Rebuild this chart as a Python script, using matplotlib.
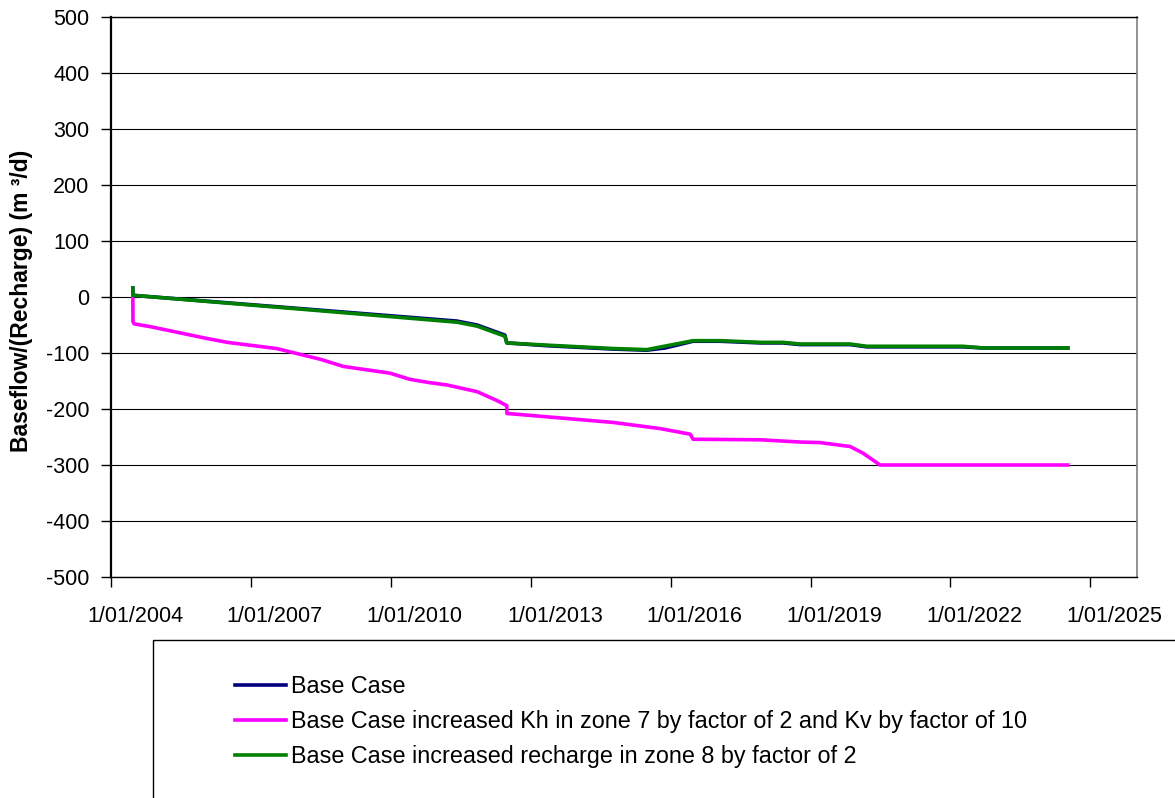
import matplotlib
matplotlib.use('Agg')
import matplotlib.pyplot as plt
import matplotlib.transforms as mtransforms
from matplotlib.patches import Rectangle
import numpy as np
import pandas as pd

plt.rcParams['font.family'] = ['Liberation Sans', 'DejaVu Sans']
plt.rcParams['axes.unicode_minus'] = False

# simulated baseflow (m3/d), negative = recharge
base_dates = ['2004-06-20', '2004-06-21', '2008-04-05', '2011-06-03', '2011-11-07',
              '2012-06-12', '2012-06-27', '2013-05-08', '2014-10-08', '2015-06-28',
              '2015-11-20', '2016-06-25', '2017-01-22', '2017-12-03', '2018-05-30',
              '2018-10-12', '2019-11-07', '2020-03-17', '2022-04-08', '2022-09-13',
              '2024-07-08']
base_vals = [16, 3, -22, -43, -50, -68, -82, -87, -93, -95, -91, -79, -79, -82, -82,
             -85, -85, -89, -89, -91, -91]

kh_dates = ['2004-06-20', '2004-06-21', '2004-07-01', '2004-11-05', '2006-01-20',
            '2006-06-30', '2007-07-20', '2008-06-25', '2008-12-25', '2009-12-25',
            '2010-05-30', '2010-11-03', '2011-03-15', '2011-11-07', '2012-04-12',
            '2012-06-27', '2012-06-28', '2012-10-15', '2014-10-08', '2015-10-12',
            '2016-06-03', '2016-06-25', '2017-12-03', '2018-10-12', '2019-03-17',
            '2019-11-07', '2020-02-17', '2020-05-22', '2020-06-28', '2024-07-08']
kh_vals = [3, -44, -48, -53, -74, -81, -92, -111, -124, -136, -147, -153, -157, -169,
           -185, -194, -208, -210, -224, -235, -245, -254, -255, -259, -260, -267,
           -279, -294, -300, -300]

rch_dates = ['2004-06-20', '2004-06-21', '2008-04-05', '2011-06-03', '2011-11-07',
             '2012-06-12', '2012-06-27', '2013-05-08', '2014-10-08', '2015-06-28',
             '2016-06-25', '2017-01-22', '2017-12-03', '2018-05-30', '2018-10-12',
             '2019-11-07', '2020-03-17', '2022-04-08', '2022-09-13', '2024-07-08']
rch_vals = [16, 3, -23, -45, -52, -70, -82, -86, -92, -94, -78, -78, -81, -81, -84,
            -84, -88, -88, -91, -91]

xtick_dates = ['2004-01-01', '2007-01-01', '2010-01-01', '2013-01-01',
               '2016-01-01', '2019-01-01', '2022-01-01', '2025-01-01']
xtick_labels = ['1/01/2004', '1/01/2007', '1/01/2010', '1/01/2013',
                '1/01/2016', '1/01/2019', '1/01/2022', '1/01/2025']

labels = ['Base Case',
          'Base Case increased Kh in zone 7 by factor of 2 and Kv by factor of 10',
          'Base Case increased recharge in zone 8 by factor of 2']

W, H = 1175, 798
fig = plt.figure(figsize=(W / 100, H / 100), dpi=100)
ax = fig.add_axes([111 / W, 1 - 577 / H, 1026 / W, 560 / H])

lw = 2.6
ax.plot(pd.to_datetime(base_dates), base_vals, color='#000080', lw=lw, label=labels[0])
ax.plot(pd.to_datetime(kh_dates), kh_vals, color='#FF00FF', lw=lw, label=labels[1])
ax.plot(pd.to_datetime(rch_dates), rch_vals, color='#008000', lw=lw, label=labels[2])

ax.set_xlim(pd.Timestamp('2004-01-01'), pd.Timestamp('2026-01-01'))
ax.set_ylim(-500, 500)
ax.set_yticks(np.arange(-500, 501, 100))
ax.set_xticks(pd.to_datetime(xtick_dates))
ax.set_xticklabels(xtick_labels)

ax.grid(axis='y', color='black', lw=0.8)
ax.set_axisbelow(True)
ax.tick_params(axis='both', direction='out', length=7, width=1, labelsize=15.5,
               color='black')
ax.tick_params(axis='y', pad=8.5)
ax.tick_params(axis='x', pad=14)

# date labels sit a little to the right of their tick marks
shift = mtransforms.ScaledTranslation(0.24, 0, fig.dpi_scale_trans)
for lab in ax.get_xticklabels():
    lab.set_transform(lab.get_transform() + shift)

ax.spines['left'].set_linewidth(1.6)
ax.spines['bottom'].set_linewidth(1)
ax.spines['top'].set_linewidth(1)
ax.spines['right'].set_color('#808080')
ax.spines['right'].set_linewidth(1.2)

fig.text(22 / W, 1 - 301 / H, 'Baseflow/(Recharge) (m ³/d)', rotation=90,
         ha='center', va='center', fontsize=16.5, fontweight='bold')

# legend box running off the bottom/right edge
fig.add_artist(Rectangle((153 / W, -0.1), 1.2, (1 - 640 / H) + 0.1,
                         transform=fig.transFigure, fill=False,
                         edgecolor='black', lw=1))
fig.legend(loc='upper left', bbox_to_anchor=(235 / W, 1 - 675 / H),
           frameon=False, fontsize=16.8, handlelength=2.2, handletextpad=0.2,
           labelspacing=0.52, borderpad=0, borderaxespad=0)

fig.savefig('out.png', dpi=100)
